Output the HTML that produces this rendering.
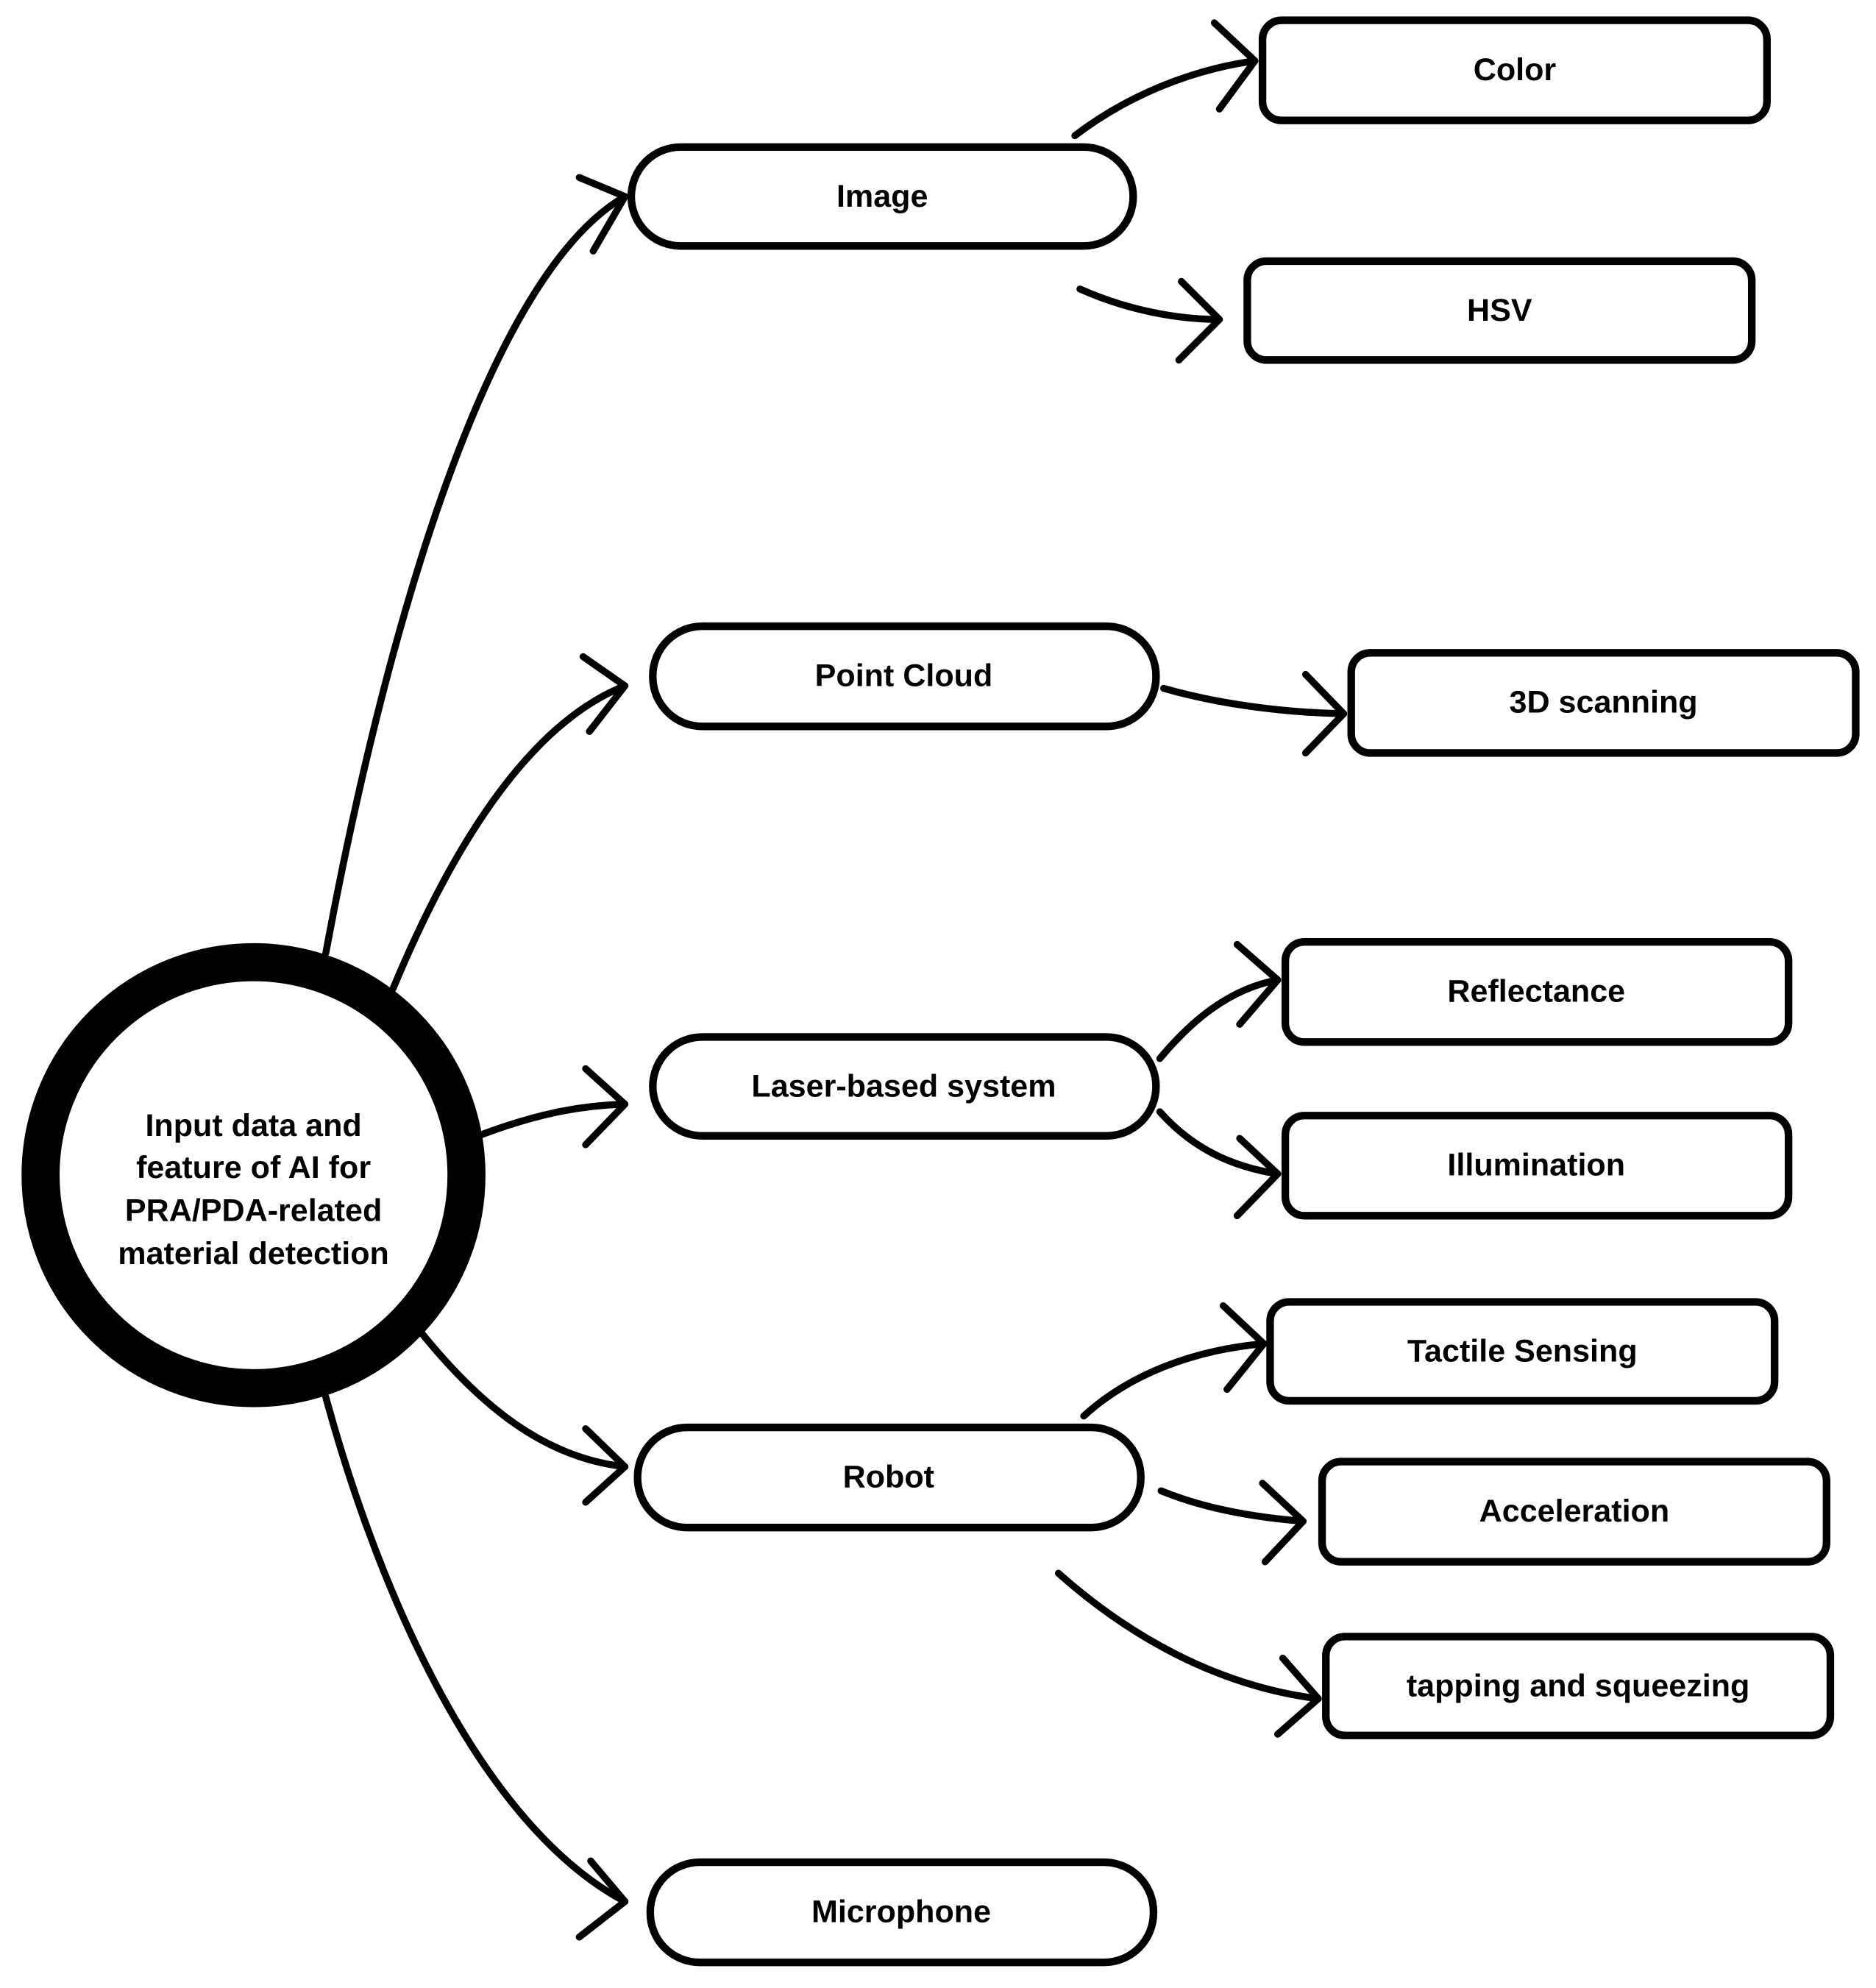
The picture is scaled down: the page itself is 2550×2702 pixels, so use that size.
<!DOCTYPE html>
<html><head><meta charset="utf-8"><style>
html,body{margin:0;padding:0;background:#fff;}
svg{display:block;}
text{font-family:"Liberation Sans",sans-serif;font-weight:bold;font-size:25px;fill:#000;text-anchor:middle;dominant-baseline:central;}
</style></head><body>
<svg width="2550" height="2702" viewBox="0 0 1480 1568.2" xmlns="http://www.w3.org/2000/svg">
<rect width="1480" height="1568.2" fill="#fff"/>
<g fill="none" stroke="#000" stroke-width="5.5" stroke-linecap="round" stroke-linejoin="round">
<path d="M257,752 C300,520 380,220 493,155"/><path d="M457,140 L493,155 L468,198"/>
<path d="M310,780 C360,660 420,570 493,541"/><path d="M460,518 L493,541 L465,577"/>
<path d="M380,895 C420,880 455,872 493,871"/><path d="M462,843 L493,871 L462,903"/>
<path d="M333,1052 C380,1110 430,1150 493,1157"/><path d="M462,1127 L493,1157 L462,1185"/>
<path d="M257,1102 C300,1260 380,1440 493,1500"/><path d="M466,1468 L493,1500 L457,1528"/>
<path d="M848,107 C890,75 940,55 990,48"/><path d="M958,18 L990,48 L962,86"/>
<path d="M852,228 C890,245 930,252 962,252"/><path d="M932,222 L962,252 L930,284"/>
<path d="M918,543 C960,555 1010,562 1060,563"/><path d="M1030,532 L1060,563 L1030,594"/>
<path d="M915,835 C940,805 970,780 1008,773"/><path d="M976,745 L1008,773 L978,808"/>
<path d="M915,877 C940,905 970,920 1008,926"/><path d="M978,898 L1008,926 L976,959"/>
<path d="M855,1117 C890,1085 940,1065 997,1060"/><path d="M965,1030 L997,1060 L968,1096"/>
<path d="M916,1176 C950,1190 990,1197 1028,1200"/><path d="M996,1170 L1028,1200 L998,1232"/>
<path d="M835,1241 C890,1290 960,1330 1040,1340"/><path d="M1012,1308 L1040,1340 L1008,1368"/>
</g>
<g fill="#fff" stroke="#000" stroke-width="6">
<rect x="498" y="116" width="396" height="78" rx="39"/>
<rect x="515" y="494" width="397" height="79" rx="39"/>
<rect x="515" y="818" width="397" height="78" rx="39"/>
<rect x="503" y="1126" width="397" height="79" rx="39"/>
<rect x="513" y="1469" width="397" height="79" rx="39"/>
<rect x="996" y="16" width="398" height="79" rx="15"/>
<rect x="984" y="206" width="398" height="78" rx="15"/>
<rect x="1066" y="515" width="398" height="79" rx="15"/>
<rect x="1014" y="743" width="397" height="79" rx="15"/>
<rect x="1014" y="880" width="397" height="79" rx="15"/>
<rect x="1002" y="1027" width="398" height="78" rx="15"/>
<rect x="1043" y="1153" width="398" height="79" rx="15"/>
<rect x="1046" y="1291" width="398" height="78" rx="15"/>
</g>
<circle cx="200" cy="927" r="168" fill="#fff" stroke="#000" stroke-width="30"/>
<text x="200" y="888">Input data and</text>
<text x="200" y="921">feature of AI for</text>
<text x="200" y="955">PRA/PDA-related</text>
<text x="200" y="989">material detection</text>
<text x="696" y="155">Image</text>
<text x="713" y="533">Point Cloud</text>
<text x="713" y="857">Laser-based system</text>
<text x="701" y="1165">Robot</text>
<text x="711" y="1508">Microphone</text>
<text x="1195" y="55">Color</text>
<text x="1183" y="245">HSV</text>
<text x="1265" y="554">3D scanning</text>
<text x="1212" y="782">Reflectance</text>
<text x="1212" y="919">Illumination</text>
<text x="1201" y="1066">Tactile Sensing</text>
<text x="1242" y="1192">Acceleration</text>
<text x="1245" y="1330">tapping and squeezing</text>
</svg>
</body></html>
